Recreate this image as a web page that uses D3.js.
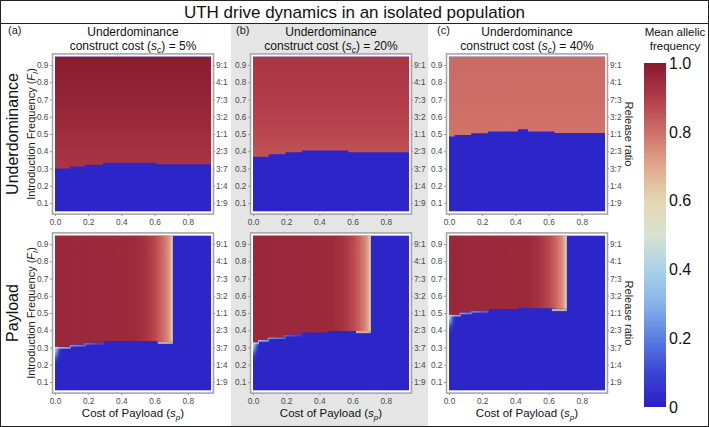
<!DOCTYPE html>
<html><head><meta charset="utf-8">
<script src="https://cdn.jsdelivr.net/npm/d3@7"></script>
<style>
body{margin:0;background:#fff}
svg{display:block}
text{font-family:"Liberation Sans",Arial,Helvetica,sans-serif}
</style>
</head><body>
<svg id="chart" width="709" height="427"></svg>
<script>
// ---------------- data ----------------
const spTicks = [0.0, 0.2, 0.4, 0.6, 0.8];
const fiTicks = [0.1, 0.2, 0.3, 0.4, 0.5, 0.6, 0.7, 0.8, 0.9];
const ratioLabels = ["1:9","1:4","3:7","2:3","1:1","3:2","7:3","4:1","9:1"];
const panelLetters = ["(a)","(b)","(c)"];
const constructCosts = ["5%","20%","40%"];
const colorbarTicks = [0, 0.2, 0.4, 0.6, 0.8, 1.0];
const cmapValues = [0, 0.1, 0.2, 0.3, 0.4, 0.5, 0.6, 0.7, 0.8, 0.9, 1.0];
const cmapColors = ["#2a1fc6","#3a45d2","#5a7fe2","#86b4ea","#a9d2e6","#d8e2d2","#e6d6b0","#e0a88e","#cf6f68","#b33a48","#861a2e"];

const lostValue = 0.015;          // mean allelic frequency where drive is lost
// Underdominance row: release threshold steps [sp start, Fi]
const udBoundaryA = [[0,0.300],[0.09,0.311],[0.18,0.322],[0.29,0.333],[0.61,0.325]];
const udBoundaryB = [[0,0.368],[0.094,0.382],[0.195,0.394],[0.295,0.405],[0.575,0.394]];
const udBoundaryC = [[0,0.486],[0.034,0.494],[0.134,0.504],[0.234,0.515],[0.415,0.527],[0.476,0.515],[0.636,0.506]];
// Underdominance row: frequency above threshold, by Fi [Fi, value]
const udProfileA = [[0.95,0.99],[0.7,0.97],[0.5,0.945],[0.3,0.915]];
const udProfileB = [[0.95,0.915],[0.7,0.9],[0.5,0.878],[0.36,0.85]];
const udProfileC = [[0.95,0.81],[0.7,0.805],[0.48,0.79]];
// Payload row: threshold steps [sp start, Fi]
const plBoundaryA = [[0,0.304],[0.09,0.317],[0.18,0.327],[0.29,0.337],[0.61,0.334]];
const plBoundaryB = [[0,0.33],[0.03,0.345],[0.09,0.36],[0.19,0.375],[0.29,0.387],[0.45,0.396]];
const plBoundaryC = [[0,0.49],[0.065,0.504],[0.134,0.513],[0.234,0.523],[0.415,0.531],[0.48,0.527],[0.636,0.524]];
// Payload row: frequency above threshold, by sp [sp, value]
const plProfile = [[0,0.955],[0.48,0.95],[0.54,0.93],[0.6,0.88],[0.65,0.81],[0.685,0.74],[0.7,0.66],[0.71,0.58]];
const plEdge = 0.71;              // payload cost above which payload is lost
const plNotch = [0.62, 0.013, 0.64]; // [sp start, Fi depth, value] pale strip under corner
const plGlow = [0.5, 0.32, 0.12]; // glow values at left edge below threshold

// ---------------- setup ----------------
const svg = d3.select("#chart");
const defs = svg.append("defs");
const color = d3.scaleLinear().domain(cmapValues).range(cmapColors).interpolate(d3.interpolateRgb).clamp(true);

svg.append("rect").attr("width",709).attr("height",427).attr("fill","#fff");
svg.append("rect").attr("x",231).attr("y",23).attr("width",197).attr("height",403).attr("fill","#e5e5e5");
svg.append("rect").attr("x",0.5).attr("y",0.5).attr("width",708).attr("height",426)
  .attr("fill","none").attr("stroke","#222").attr("stroke-width",1);
svg.append("line").attr("x1",0).attr("x2",709).attr("y1",23.5).attr("y2",23.5).attr("stroke","#222");

svg.append("text").attr("x",354.5).attr("y",18).attr("text-anchor","middle")
  .attr("font-size",17).attr("fill","#111").text("UTH drive dynamics in an isolated population");

const colX = [55, 253, 449];
const rowY = [56.4, 235.4];
const W = 156, H = 155.2;
let gid = 0;

function stepPoints(boundary, xEnd){
  const pts = [];
  boundary.forEach((b,i)=>{
    if (b[0] >= xEnd) return;
    const e = Math.min(i+1<boundary.length ? boundary[i+1][0] : xEnd, xEnd);
    pts.push([b[0], b[1]],[e, b[1]]);
  });
  return pts;
}

function panel(ci, ri, boundary, profile){
  const g = svg.append("g");
  const x = d3.scaleLinear().domain([0,0.94]).range([colX[ci], colX[ci]+W]);
  const y = d3.scaleLinear().domain([0.05,0.95]).range([rowY[ri]+H, rowY[ri]]);
  const id = "p"+(gid++);
  // frame
  g.append("rect").attr("x",x(0)-2.5).attr("y",y(0.95)-2.5).attr("width",W+5).attr("height",H+5)
    .attr("fill","#fff").attr("stroke","#a3a3a3").attr("stroke-width",1.5);
  defs.append("clipPath").attr("id",id+"c").append("rect")
    .attr("x",x(0)).attr("y",y(0.95)).attr("width",W).attr("height",H);
  const h = g.append("g").attr("clip-path",`url(#${id}c)`);
  h.append("rect").attr("x",x(0)).attr("y",y(0.95)).attr("width",W).attr("height",H).attr("fill",color(lostValue));

  const isPayload = ri===1;
  const xEnd = isPayload ? plEdge : 1.0;
  const pts = stepPoints(boundary, xEnd);

  if (isPayload){
    // glow below threshold at left edge
    const rg = defs.append("radialGradient").attr("id",id+"g");
    [[0,plGlow[0],1],[0.3,plGlow[1],0.9],[0.65,plGlow[2],0.5],[1,lostValue,0]].forEach(s=>
      rg.append("stop").attr("offset",s[0]).attr("stop-color",color(s[1])).attr("stop-opacity",s[2]));
    h.append("ellipse").attr("cx",x(0)-1).attr("cy",y(boundary[0][1])+1)
      .attr("rx",x(0.055)-x(0)).attr("ry",y(0)-y(0.12)).attr("fill",`url(#${id}g)`);
    // light halo along threshold
    const lg = defs.append("linearGradient").attr("id",id+"h").attr("gradientUnits","userSpaceOnUse")
      .attr("x1",x(0)).attr("x2",x(0.38)).attr("y1",0).attr("y2",0);
    [[0,0.42,0.9],[0.5,0.3,0.5],[1,0.2,0]].forEach(s=>
      lg.append("stop").attr("offset",s[0]).attr("stop-color",color(s[1])).attr("stop-opacity",s[2]));
    h.append("path").attr("d",d3.line().x(d=>x(d[0])).y(d=>y(d[1])+1)(pts.filter(p=>p[0]<=0.4)))
      .attr("fill","none").attr("stroke",`url(#${id}h)`).attr("stroke-width",1.8);
    // pale strip under corner
    const last = pts[pts.length-1][1];
    h.append("rect").attr("x",x(plNotch[0])).attr("y",y(last)).attr("width",x(plEdge)-x(plNotch[0]))
      .attr("height",y(last-plNotch[1])-y(last)).attr("fill",color(plNotch[2])).attr("opacity",0.85);
  }

  // red (drive persists) region
  const poly = [[0,0.95],[xEnd,0.95]].concat(pts.slice().reverse());
  const grad = defs.append("linearGradient").attr("id",id+"r").attr("gradientUnits","userSpaceOnUse");
  if (isPayload){
    grad.attr("x1",x(0)).attr("x2",x(plEdge)).attr("y1",0).attr("y2",0);
    profile.forEach(p=>grad.append("stop").attr("offset",(x(p[0])-x(0))/(x(plEdge)-x(0))).attr("stop-color",color(p[1])));
  } else {
    const yl = profile[profile.length-1][0];
    grad.attr("x1",0).attr("x2",0).attr("y1",y(0.95)).attr("y2",y(yl));
    profile.forEach(p=>grad.append("stop").attr("offset",(y(p[0])-y(0.95))/(y(yl)-y(0.95))).attr("stop-color",color(p[1])));
  }
  h.append("path").attr("d",d3.line().x(d=>x(d[0])).y(d=>y(d[1]))(poly)+"Z").attr("fill",`url(#${id}r)`);

  // axes
  const axL = g.append("g").attr("transform",`translate(${x(0)-3},0)`)
    .call(d3.axisLeft(y).tickValues(fiTicks).tickSize(2).tickPadding(1.5).tickFormat(d3.format(".1f")));
  const axR = g.append("g").attr("transform",`translate(${x(0.94)+2.5},0)`)
    .call(d3.axisRight(y).tickValues(fiTicks).tickSize(1.5).tickPadding(1).tickFormat((d,i)=>ratioLabels[i]));
  const axB = g.append("g").attr("transform",`translate(0,${y(0.05)+2.5})`)
    .call(d3.axisBottom(x).tickValues(spTicks).tickSize(2).tickPadding(3.5).tickFormat(d3.format(".1f")));
  [axL,axR,axB].forEach(a=>{
    a.select(".domain").remove();
    a.selectAll("line").attr("stroke","#999");
    a.selectAll("text").attr("font-size",8.3).attr("fill","#4a4a4a")
      .attr("font-family","'Liberation Sans',Arial,sans-serif");
  });
  return {x,y};
}

const udB = [udBoundaryA, udBoundaryB, udBoundaryC];
const udP = [udProfileA, udProfileB, udProfileC];
const plB = [plBoundaryA, plBoundaryB, plBoundaryC];
for (let c=0;c<3;c++){
  panel(c,0,udB[c],udP[c]);
  panel(c,1,plB[c],plProfile);
  const cx = colX[c]+W/2;
  svg.append("text").attr("x",[8,236,437][c]).attr("y",34).attr("font-size",11).attr("fill","#222").text(panelLetters[c]);
  svg.append("text").attr("x",cx).attr("y",35.5).attr("text-anchor","middle").attr("font-size",12).attr("fill","#111").text("Underdominance");
  const t = svg.append("text").attr("x",cx).attr("y",49.5).attr("text-anchor","middle").attr("font-size",12).attr("fill","#111");
  t.append("tspan").text("construct cost (");
  t.append("tspan").attr("font-style","italic").text("s");
  t.append("tspan").attr("font-style","italic").attr("font-size",8.5).attr("dy",3).text("c");
  t.append("tspan").attr("dy",-3).text(") = "+constructCosts[c]);
  const xt = svg.append("text").attr("x",cx).attr("y",417).attr("text-anchor","middle").attr("font-size",11.5).attr("fill","#111");
  xt.append("tspan").text("Cost of Payload (");
  xt.append("tspan").attr("font-style","italic").text("s");
  xt.append("tspan").attr("font-style","italic").attr("font-size",8).attr("dy",3).text("p");
  xt.append("tspan").attr("dy",-3).text(")");
}

// row labels
[["Underdominance",134],["Payload",313]].forEach(r=>{
  svg.append("text").attr("transform",`translate(18,${r[1]}) rotate(-90)`).attr("text-anchor","middle")
    .attr("font-size",16).attr("fill","#111").text(r[0]);
  const t = svg.append("text").attr("transform",`translate(35,${r[1]}) rotate(-90)`).attr("text-anchor","middle")
    .attr("font-size",11).attr("fill","#222");
  t.append("tspan").text("Introduction Frequency (");
  t.append("tspan").attr("font-style","italic").text("F");
  t.append("tspan").attr("font-style","italic").attr("font-size",7.5).attr("dy",2.5).text("I");
  t.append("tspan").attr("dy",-2.5).text(")");
  svg.append("text").attr("transform",`translate(625,${r[1]}) rotate(90)`).attr("text-anchor","middle")
    .attr("font-size",11).attr("fill","#222").text("Release ratio");
});

// colorbar
const cb = d3.scaleLinear().domain([0,1]).range([407,63]);
const cg = defs.append("linearGradient").attr("id","cbar").attr("x1",0).attr("x2",0).attr("y1",1).attr("y2",0);
cmapValues.forEach((v,i)=>cg.append("stop").attr("offset",v).attr("stop-color",cmapColors[i]));
svg.append("rect").attr("x",644).attr("y",cb(1)).attr("width",22).attr("height",cb(0)-cb(1)).attr("fill","url(#cbar)");
svg.selectAll(".cbt").data(colorbarTicks).enter().append("text")
  .attr("x",669).attr("y",d=>cb(d)).attr("dy","0.36em").attr("font-size",16).attr("fill","#111")
  .text(d=>d===0?"0":d.toFixed(1));
svg.append("text").attr("x",675).attr("y",35.5).attr("text-anchor","middle").attr("font-size",11.5).attr("fill","#111").text("Mean allelic");
svg.append("text").attr("x",675).attr("y",49.5).attr("text-anchor","middle").attr("font-size",11.5).attr("fill","#111").text("frequency");
</script>
</body></html>
